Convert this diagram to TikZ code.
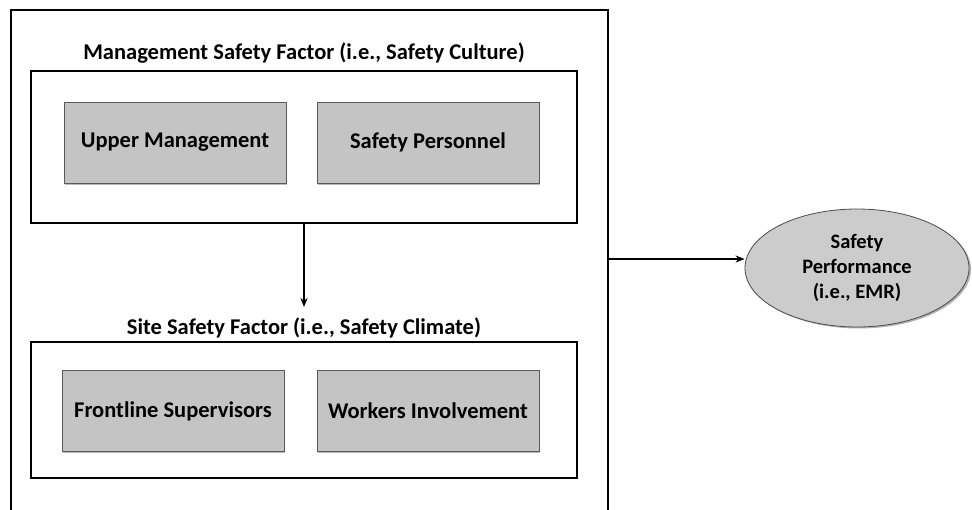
\documentclass[tikz,border=0pt]{standalone}
\usepackage{fontspec}
\setmainfont{Carlito}
\usetikzlibrary{arrows.meta,shapes.geometric,shadows}
\definecolor{boxgray}{RGB}{196,196,196}
\definecolor{ellgray}{RGB}{204,204,204}
\tikzset{
  frame/.style={draw=black, line width=2pt, fill=white},
  factor/.style={draw=gray!70!black, line width=0.8pt, fill=boxgray,
    minimum width=222pt, minimum height=81pt, inner sep=0pt,
    font=\bfseries\fontsize{22.5}{26}\selectfont,
    drop shadow={shadow xshift=0.8pt, shadow yshift=-1.5pt, opacity=0.55}},
  heading/.style={font=\bfseries\fontsize{22.5}{26}\selectfont, inner sep=0pt},
  link/.style={draw=black, line width=2pt, -{Stealth[length=9pt,width=7pt]}},
  outcome/.style={ellipse, draw=gray!60!black, line width=0.8pt, fill=ellgray,
    minimum width=224pt, minimum height=118pt, inner sep=0pt, align=center,
    font=\bfseries\fontsize{20.5}{25}\selectfont,
    drop shadow={shadow xshift=2pt, shadow yshift=-1.5pt, opacity=0.6}}
}
\begin{document}
\begin{tikzpicture}[x=1pt, y=-1pt]
  \useasboundingbox (0,0) rectangle (972,509);
  \fill[white] (0,0) rectangle (972,509);
  \clip (0,0) rectangle (972,509);

  % outer frame, open past the lower edge
  \node[draw=black, line width=2pt, minimum width=597pt, minimum height=530pt,
        inner sep=0pt, anchor=north west] (outer) at (10,9) {};

  % management level
  \node[heading] (mtitle) at (304,53) {Management Safety Factor (i.e., Safety Culture)};
  \node[frame, minimum width=546pt, minimum height=152pt, inner sep=0pt] (mgmt) at (304,147) {};
  \node[factor] (upper) at (175,142.5) {Upper Management};
  \node[factor] (personnel) at (428,142.5) {Safety Personnel};

  % site level
  \node[heading] (stitle) at (304,328) {Site Safety Factor (i.e., Safety Climate)};
  \node[frame, minimum width=546pt, minimum height=136pt, inner sep=0pt] (site) at (304,410) {};
  \node[factor] (frontline) at (173,411) {Frontline Supervisors};
  \node[factor] (workers) at (428,411) {Workers Involvement};

  % outcome
  \node[outcome] (perf) at (857,268) {Safety\\Performance\\(i.e., EMR)};

  % connectors
  \draw[link] (mgmt.south) -- (304,307);
  \draw[link] (outer.east |- 0,259) -- (perf.west |- 0,259);
\end{tikzpicture}
\end{document}
